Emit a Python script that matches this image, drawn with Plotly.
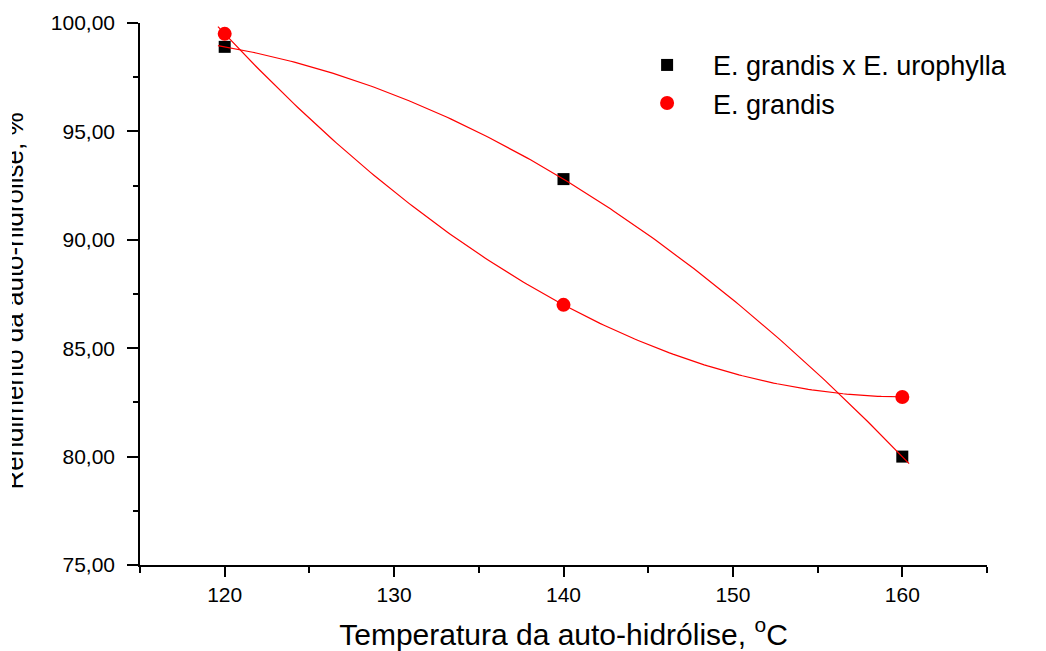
import numpy as np
import plotly.graph_objects as go

# ---- data ----
temperatura = [120, 140, 160]
hibrido = [98.9, 92.8, 80.0]       # E. grandis x E. urophylla
grandis = [99.5, 87.0, 82.75]      # E. grandis
nome_hibrido = "E. grandis x E. urophylla"
nome_grandis = "E. grandis"
x_ticks = [120, 130, 140, 150, 160]
y_ticks = [75, 80, 85, 90, 95, 100]
fit_range = [119.6, 160.4]

FONT = "Liberation Sans, Arial, sans-serif"

def quad_fit(x, y):
    c = np.polyfit(x, y, 2)
    xs = np.linspace(fit_range[0], fit_range[1], 200)
    return xs, np.polyval(c, xs)

fig = go.Figure()
fig.add_trace(go.Scatter(x=temperatura, y=hibrido, mode="markers", name=nome_hibrido,
                         marker=dict(symbol="square", size=12, color="black")))
fig.add_trace(go.Scatter(x=temperatura, y=grandis, mode="markers", name=nome_grandis,
                         marker=dict(symbol="circle", size=14, color="red")))
for ys in (hibrido, grandis):
    xs, yf = quad_fit(temperatura, ys)
    fig.add_trace(go.Scatter(x=xs, y=yf, mode="lines", showlegend=False,
                             line=dict(color="red", width=1.2), hoverinfo="skip"))

fig.update_layout(
    width=1046, height=651,
    margin=dict(l=140, r=59, t=23, b=86, autoexpand=False),
    paper_bgcolor="white", plot_bgcolor="white",
    separators=",.",
    font=dict(family=FONT, color="black"),
    showlegend=True,
    legend=dict(x=0.568, y=0.967, xanchor="left", yanchor="top",
                font=dict(size=27, family=FONT), bgcolor="rgba(0,0,0,0)",
                itemwidth=82, tracegroupgap=0),
)
fig.update_xaxes(range=[115, 165], tickvals=x_ticks, ticks="outside", ticklen=10,
                 tickwidth=1.5, tickcolor="black", showline=True, linecolor="black",
                 linewidth=1.5, showgrid=False, zeroline=False, automargin=False,
                 tickfont=dict(size=21, family=FONT), ticklabelstandoff=0,
                 minor=dict(dtick=5, tick0=115, ticks="outside", ticklen=6,
                            tickwidth=1.5, tickcolor="black", showgrid=False),
                 title=dict(text="Temperatura da auto-hidrólise, <sup>o</sup>C",
                            font=dict(size=30, family=FONT), standoff=20))
fig.update_yaxes(range=[75, 100], tickvals=y_ticks, tickformat=".2f", ticks="outside",
                 ticklen=11, tickwidth=1.5, tickcolor="black", showline=True,
                 linecolor="black", linewidth=1.5, showgrid=False, zeroline=False,
                 automargin=False, tickfont=dict(size=21, family=FONT),
                 ticklabelstandoff=8,
                 minor=dict(dtick=2.5, tick0=75, ticks="outside", ticklen=5,
                            tickwidth=1.5, tickcolor="black", showgrid=False))

# y-axis title (partly cut off at the left edge as in the reference)
fig.add_annotation(text="Rendimento da auto-hidrólise, %", textangle=-90,
                   xref="paper", yref="paper", x=(14 - 140) / 847, y=0.486,
                   xanchor="center", yanchor="middle", showarrow=False,
                   font=dict(size=26, family=FONT, color="black"))
fig.add_annotation(text=".", xref="paper", yref="paper", x=(0 - 140) / 847, y=0.486,
                   xanchor="left", yanchor="middle", showarrow=False,
                   font=dict(size=10, color="white"),
                   width=12, height=430, bgcolor="white", borderwidth=0, borderpad=0)

fig.write_html("out.html")
